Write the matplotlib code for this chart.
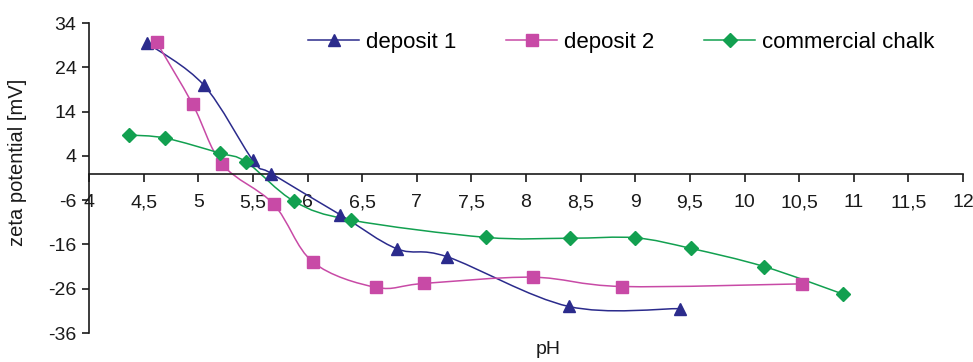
import matplotlib
matplotlib.use("Agg")
import matplotlib.pyplot as plt
import numpy as np
from matplotlib.path import Path
from matplotlib.patches import PathPatch
from matplotlib.lines import Line2D

plt.rcParams.update({
    "font.family": ["Liberation Sans", "DejaVu Sans"],
    "font.size": 14,
})

# ---- data ----
ph_dep1 = [4.53, 5.05, 5.50, 5.67, 6.30, 6.82, 7.28, 8.39, 9.41]
zeta_dep1 = [29.5, 20.0, 3.0, 0.0, -9.3, -17.0, -18.8, -30.0, -30.5]

ph_dep2 = [4.62, 4.95, 5.22, 5.69, 6.05, 6.63, 7.07, 8.06, 8.88, 10.53]
zeta_dep2 = [29.6, 15.6, 2.1, -6.9, -20.0, -25.7, -24.8, -23.4, -25.5, -24.9]

ph_chalk = [4.37, 4.70, 5.20, 5.44, 5.88, 6.40, 7.63, 8.40, 9.00, 9.51, 10.18, 10.90]
zeta_chalk = [8.7, 8.0, 4.6, 2.6, -6.3, -10.5, -14.4, -14.6, -14.5, -16.9, -21.0, -27.2]

labels = ["deposit 1", "deposit 2", "commercial chalk"]
x_ticks = [4, 4.5, 5, 5.5, 6, 6.5, 7, 7.5, 8, 8.5, 9, 9.5, 10, 10.5, 11, 11.5, 12]
y_ticks = [34, 24, 14, 4, -6, -16, -26, -36]

BLUE = "#2b2b8c"
MAGENTA = "#c84aa6"
GREEN = "#12a050"
INK = "#1a1a1a"


def smooth_path(xs, ys):
    # Excel-style smoothed line: cubic Bezier segments through the points
    pts = np.column_stack([xs, ys])
    n = len(pts)
    verts = [pts[0]]
    codes = [Path.MOVETO]
    for i in range(n - 1):
        p0 = pts[max(i - 1, 0)]
        p1 = pts[i]
        p2 = pts[i + 1]
        p3 = pts[min(i + 2, n - 1)]
        c1 = p1 + (p2 - p0) / 6.0
        c2 = p2 - (p3 - p1) / 6.0
        verts += [c1, c2, p2]
        codes += [Path.CURVE4] * 3
    return Path(verts, codes)


fig = plt.figure(figsize=(9.73, 3.62), dpi=100)
ax = fig.add_axes([89 / 973, 1 - 333 / 362, 874 / 973, 310 / 362])

series = [
    (ph_dep1, zeta_dep1, BLUE, "^", 9),
    (ph_dep2, zeta_dep2, MAGENTA, "s", 8.5),
    (ph_chalk, zeta_chalk, GREEN, "D", 7),
]

handles = []
for (xs, ys, col, mk, ms), lab in zip(series, labels):
    ax.add_patch(PathPatch(smooth_path(xs, ys), facecolor="none",
                           edgecolor=col, linewidth=1.1, zorder=2))
    ax.plot(xs, ys, linestyle="none", marker=mk, markersize=ms,
            color=col, markeredgecolor=col, zorder=3)
    handles.append(Line2D([], [], color=col, linewidth=1.1, marker=mk,
                          markersize=ms, label=lab))

ax.set_xlim(4, 12)
ax.set_ylim(-36, 34)
ax.set_xticks(x_ticks)
ax.set_xticklabels([f"{t:g}".replace(".", ",") for t in x_ticks])
ax.set_yticks(y_ticks)
ax.set_yticklabels([f"{t:g}" for t in y_ticks])

ax.spines["top"].set_visible(False)
ax.spines["right"].set_visible(False)
ax.spines["bottom"].set_position(("data", 0))
for s in ("left", "bottom"):
    ax.spines[s].set_color(INK)
    ax.spines[s].set_linewidth(1.2)
ax.tick_params(axis="x", direction="out", length=6, width=1.2,
               pad=9, labelsize=14, colors=INK)
ax.tick_params(axis="y", direction="out", length=5, width=1.2,
               pad=4, labelsize=14, colors=INK)

ax.set_ylabel("zeta potential [mV]", fontsize=14.5, color=INK)
ax.yaxis.set_label_coords(-0.071, 0.55)
ax.set_xlabel("pH", fontsize=14, color=INK)
ax.xaxis.set_label_coords(0.525, -0.025)

fig.legend(handles=handles, loc="upper left",
           bbox_to_anchor=(297 / 973, 1 - 21 / 362), ncol=3, frameon=False,
           fontsize=16, borderpad=0, handlelength=2.3, handletextpad=0.3,
           columnspacing=2.25)

fig.savefig("out.png", dpi=100)
